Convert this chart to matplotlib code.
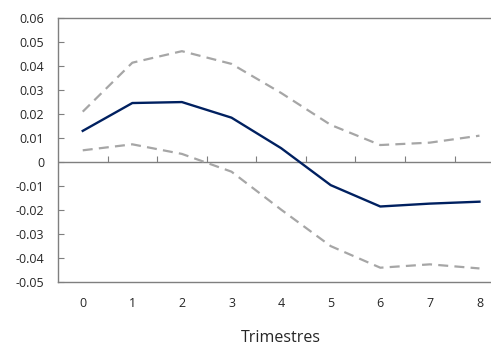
import matplotlib.pyplot as plt
import numpy as np

# trimestres 0..8
quarters = [0, 1, 2, 3, 4, 5, 6, 7, 8]
central = [0.013, 0.0246, 0.025, 0.0185, 0.0058, -0.0096, -0.0185, -0.0173, -0.0165]
upper = [0.021, 0.0414, 0.0462, 0.0409, 0.0288, 0.0155, 0.0071, 0.0081, 0.011]
lower = [0.0049, 0.0074, 0.0034, -0.004, -0.0198, -0.035, -0.044, -0.0426, -0.0443]
y_ticks = [-0.05, -0.04, -0.03, -0.02, -0.01, 0, 0.01, 0.02, 0.03, 0.04, 0.05, 0.06]
y_labels = ['-0.05', '-0.04', '-0.03', '-0.02', '-0.01', '0',
            '0.01', '0.02', '0.03', '0.04', '0.05', '0.06']

plt.rcParams['font.family'] = ['Open Sans', 'DejaVu Sans']

fig = plt.figure(figsize=(4.91, 3.47), dpi=100)
ax = fig.add_axes([0.118, 0.187, 0.909, 0.761])

grey = '#A6A6A6'
ax.plot(quarters, upper, color=grey, lw=1.6, dashes=(4.5, 2.8))
ax.plot(quarters, lower, color=grey, lw=1.6, dashes=(4.5, 2.8))
ax.plot(quarters, central, color='#002060', lw=1.7)

ax.set_xlim(-0.5, 8.5)
ax.set_ylim(-0.05, 0.06)

spine_col = '#7F7F7F'
for s in ['left', 'top', 'bottom']:
    ax.spines[s].set_color(spine_col)
    ax.spines[s].set_linewidth(1.0)
ax.spines['right'].set_visible(False)

ax.set_yticks(y_ticks)
ax.set_yticklabels(y_labels)
ax.tick_params(axis='y', direction='in', length=4, width=0.8, color=spine_col,
               pad=10, labelsize=9, labelcolor='#262626')

ax.set_xticks(quarters)
ax.set_xticklabels([str(q) for q in quarters])
ax.tick_params(axis='x', length=0, pad=11, labelsize=9, labelcolor='#262626')

# zero line with tick marks between categories
ax.axhline(0, color=spine_col, lw=1.0, zorder=1)
zero_pos = (0 - (-0.05)) / (0.06 - (-0.05))
sec = ax.secondary_xaxis(zero_pos)
sec.spines['bottom'].set_visible(False)
sec.set_xticks(np.arange(0.5, 8, 1.0))
sec.set_xticklabels([])
sec.tick_params(direction='in', length=4, width=0.8, color=spine_col)

ax.set_xlabel('Trimestres', fontsize=11.5, color='#262626', labelpad=14)

fig.savefig('out.png', dpi=100)
